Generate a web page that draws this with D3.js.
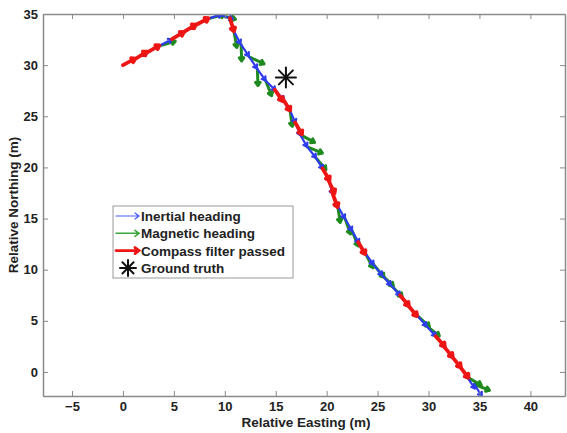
<!DOCTYPE html>
<html><head><meta charset="utf-8">
<script src="https://cdn.jsdelivr.net/npm/d3@7"></script>
<style>
body{margin:0;background:#fff}
text{font-family:Arial,"Liberation Sans",sans-serif;font-weight:bold;fill:#222}
</style>
</head><body><svg id="c" width="567" height="433"></svg>
<script>
// arrow origins (relative easting / northing, m)
const easting  = [0.0,1.2,2.4,3.6,4.8,6.0,7.2,8.4,9.5,10.5,
  10.9,11.6,12.4,13.2,14.0,14.9,15.7,16.4,16.9,17.4,
  18.1,18.9,19.6,20.2,20.6,21.1,21.8,22.5,23.1,23.8,
  24.6,25.4,26.3,27.2,28.0,28.9,29.8,30.7,31.5,32.3,
  33.1,33.8,34.5];
const northing = [30.0,30.6,31.25,31.9,32.55,33.25,33.95,34.55,34.9,34.6,
  33.3,32.0,30.8,29.6,28.5,27.6,26.7,25.6,24.4,23.2,
  22.0,21.0,19.9,18.7,17.4,16.2,15.0,13.8,12.7,11.6,
  10.5,9.5,8.5,7.5,6.5,5.5,4.5,3.5,2.5,1.5,
  0.5,-0.5,-1.2];
// headings, degrees clockwise from north
const inertialHeading = [63,62,62,62,60,60,63,72,107,163,
  152,146,146,144,135,138,148,157,157,150,
  141,148,153,163,157,150,150,151,148,144,
  141,138,138,141,138,138,138,141,141,141,
  145,146,148];
const magneticHeading = [62,58,60,74,60,58,62,76,105,163,
  170,178,115,178,158,145,148,172,150,118,
  112,140,150,155,160,172,160,158,150,152,
  140,134,136,140,140,132,128,138,140,140,
  142,120,112];
const filterPassed = [1,1,1,0,1,1,1,0,0,1,
  0,0,0,0,0,1,1,0,1,0,
  0,0,1,1,1,0,0,0,1,0,
  0,0,0,1,1,0,0,1,1,1,
  1,0,0];
const groundTruth = {e: 16.0, n: 28.8};
const arrowLength = 1.35;
const magneticArrowLength = 1.6;
const xTicks = [-5,0,5,10,15,20,25,30,35,40];
const yTicks = [0,5,10,15,20,25,30,35];
const legendLabels = ["Inertial heading","Magnetic heading","Compass filter passed","Ground truth"];

const L = 43, R = 565, T = 14, B = 396;
const x = d3.scaleLinear().domain([-7.85, 43.4]).range([L, R]);
const y = d3.scaleLinear().domain([-2.35, 35]).range([B, T]);

const svg = d3.select("#c");
svg.append("clipPath").attr("id","clip").append("rect")
  .attr("x",L).attr("y",T).attr("width",R-L).attr("height",B-T);

const colors = {inertial:"#2f3cf0", magnetic:"#1f8a1f", passed:"#ee1515"};

function arrowPath(e, n, hdg, len){
  const r = hdg*Math.PI/180;
  const x0 = x(e), y0 = y(n);
  const x1 = x(e + len*Math.sin(r)), y1 = y(n + len*Math.cos(r));
  const a = Math.atan2(y1-y0, x1-x0), hl = 4, ha = 0.6;
  const h1 = [x1 - hl*Math.cos(a-ha), y1 - hl*Math.sin(a-ha)];
  const h2 = [x1 - hl*Math.cos(a+ha), y1 - hl*Math.sin(a+ha)];
  return `M${x0},${y0}L${x1},${y1}M${h1[0]},${h1[1]}L${x1},${y1}L${h2[0]},${h2[1]}`;
}

const plot = svg.append("g").attr("clip-path","url(#clip)");
const idx = d3.range(easting.length);
plot.append("g").selectAll("path").data(idx.filter(i=>!filterPassed[i])).join("path")
  .attr("d", i=>arrowPath(easting[i], northing[i], magneticHeading[i], magneticArrowLength))
  .attr("fill","none").attr("stroke",colors.magnetic).attr("stroke-width",3)
  .attr("stroke-linecap","round").attr("stroke-linejoin","round");
plot.append("g").selectAll("path").data(idx).join("path")
  .attr("d", i=>arrowPath(easting[i], northing[i], inertialHeading[i], arrowLength))
  .attr("fill","none").attr("stroke",colors.inertial).attr("stroke-width",2.2)
  .attr("stroke-linecap","round").attr("stroke-linejoin","round");
plot.append("g").selectAll("path").data(idx.filter(i=>filterPassed[i])).join("path")
  .attr("d", i=>arrowPath(easting[i], northing[i], magneticHeading[i], arrowLength))
  .attr("fill","none").attr("stroke",colors.passed).attr("stroke-width",3.8)
  .attr("stroke-linecap","round").attr("stroke-linejoin","round");

function asterisk(g, cx, cy, r, w){
  const p = [[0,-r,0,r],[-r,0,r,0],[-r*0.7,-r*0.7,r*0.7,r*0.7],[-r*0.7,r*0.7,r*0.7,-r*0.7]];
  g.selectAll("line").data(p).join("line")
    .attr("x1",d=>cx+d[0]).attr("y1",d=>cy+d[1]).attr("x2",d=>cx+d[2]).attr("y2",d=>cy+d[3])
    .attr("stroke","#111").attr("stroke-width",w).attr("stroke-linecap","round");
}
asterisk(plot.append("g"), x(groundTruth.e), y(groundTruth.n), 10, 2);

// axes
const axisColor = "#8a8a8a";
function styleAxis(g){
  g.select(".domain").attr("stroke",axisColor).attr("stroke-width",1.5);
  g.selectAll(".tick line").attr("stroke",axisColor).attr("stroke-width",1);
  g.selectAll(".tick text").attr("font-size",13).attr("font-family","Arial, 'Liberation Sans', sans-serif").attr("font-weight","bold").attr("fill","#222");
}
svg.append("g").attr("transform",`translate(0,${B})`)
  .call(d3.axisBottom(x).tickValues(xTicks).tickSize(-5).tickPadding(6).tickSizeOuter(0)).call(styleAxis);
svg.append("g").attr("transform",`translate(0,${T})`)
  .call(d3.axisTop(x).tickValues(xTicks).tickSize(-5).tickFormat("").tickSizeOuter(0)).call(styleAxis);
svg.append("g").attr("transform",`translate(${L},0)`)
  .call(d3.axisLeft(y).tickValues(yTicks).tickSize(-5).tickPadding(5).tickSizeOuter(0)).call(styleAxis);
svg.append("g").attr("transform",`translate(${R},0)`)
  .call(d3.axisRight(y).tickValues(yTicks).tickSize(-5).tickFormat("").tickSizeOuter(0)).call(styleAxis);

svg.append("text").attr("x",(L+R)/2+2).attr("y",427).attr("text-anchor","middle").attr("font-size",13.5)
  .text("Relative Easting (m)");
svg.append("text").attr("transform",`translate(18,${(T+B)/2}) rotate(-90)`).attr("text-anchor","middle").attr("font-size",13.5)
  .text("Relative Northing (m)");

// legend
const lg = svg.append("g");
lg.append("rect").attr("x",113).attr("y",206).attr("width",180).attr("height",72)
  .attr("fill","#fff").attr("stroke","#9a9a9a").attr("stroke-width",1);
const legendStyles = [
  {c:"#4a5cff", w:1.2}, {c:"#3aa53a", w:1.6}, {c:"#ee1515", w:2.8}
];
legendLabels.forEach((lab,i)=>{
  const cy = 216 + i*17.3;
  if(i<3){
    const s = legendStyles[i];
    lg.append("path").attr("d",`M116,${cy}L139,${cy}M135,${cy-3}L139,${cy}L135,${cy+3}`)
      .attr("fill","none").attr("stroke",s.c).attr("stroke-width",s.w).attr("stroke-linecap","round");
  } else {
    asterisk(lg.append("g"), 128, cy, 8, 2);
  }
  lg.append("text").attr("x",141).attr("y",cy+5).attr("font-size",13.5).text(lab);
});
</script>
</body></html>
